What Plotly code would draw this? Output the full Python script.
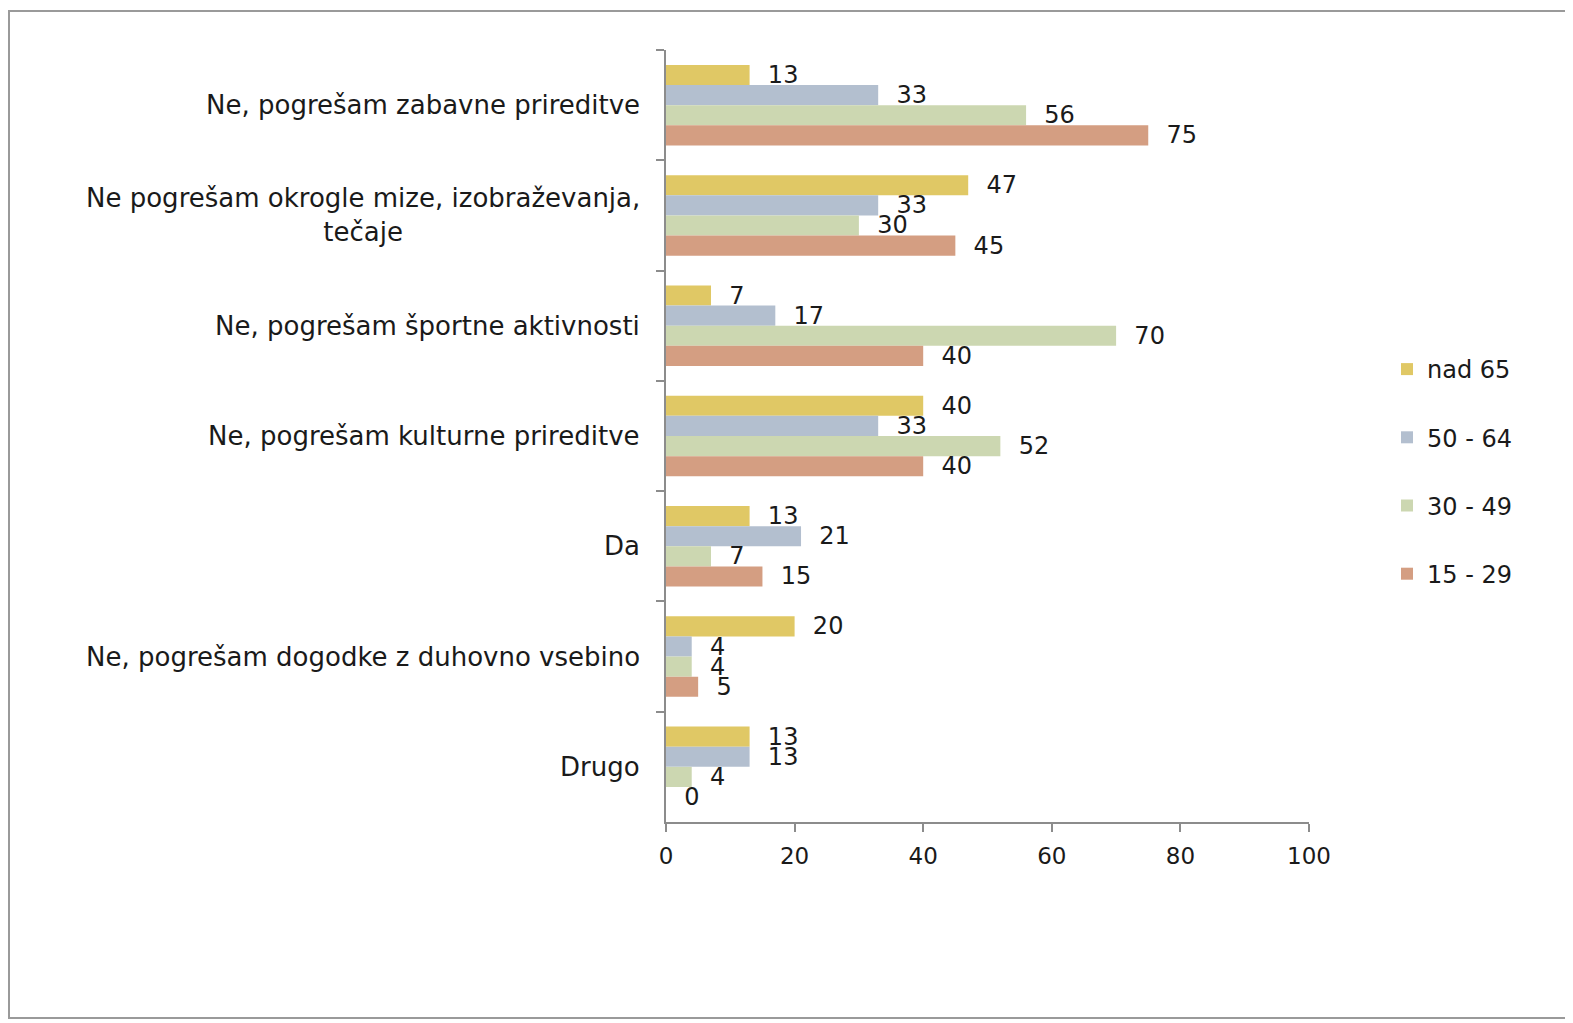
import plotly.graph_objects as go

categories = [
    "Ne, pogrešam zabavne prireditve",
    "Ne pogrešam okrogle mize, izobraževanja,<br>tečaje",
    "Ne, pogrešam športne aktivnosti",
    "Ne, pogrešam kulturne prireditve",
    "Da",
    "Ne, pogrešam dogodke z duhovno vsebino",
    "Drugo",
]
series_names = ["nad 65", "50 - 64", "30 - 49", "15 - 29"]
nad65 = [13, 47, 7, 40, 13, 20, 13]
s50_64 = [33, 33, 17, 33, 21, 4, 13]
s30_49 = [56, 30, 70, 52, 7, 4, 4]
s15_29 = [75, 45, 40, 40, 15, 5, 0]
values = [nad65, s50_64, s30_49, s15_29]
colors = ["#E0C865", "#B3BFCF", "#CCD7B1", "#D49E82"]
x_ticks = [0, 20, 40, 60, 80, 100]

FONT = "DejaVu Sans"
FS = 23
W, H = 1573, 1023
L, T = 658, 42
pw, ph = 643, 772
R = W - L - pw
B = H - T - ph

fig = go.Figure()
for name, vals, col in zip(series_names, values, colors):
    fig.add_trace(go.Bar(
        y=categories, x=vals, name=name, orientation="h",
        marker=dict(color=col, line=dict(width=0)),
        text=vals, texttemplate="\u00a0\u00a0%{x}", textposition="outside",
        textfont=dict(family=FONT, size=24, color="#1a1a1a"),
        constraintext="none",
        cliponaxis=False, legendgroup=name,
    ))

def px2x(px):
    return (px - L) / pw
def py2y(py):
    return (T + ph - py) / ph

annotations = []
for c in categories:
    annotations.append(dict(
        x=px2x(634), xref="paper", y=c, yref="y", text=c, showarrow=False,
        xanchor="right", yanchor="middle", align="center",
        font=dict(family=FONT, size=26, color="#1a1a1a"),
    ))

fig.update_layout(
    width=W, height=H,
    margin=dict(l=L, r=R, t=T, b=B),
    paper_bgcolor="white", plot_bgcolor="white",
    barmode="group", bargap=0.27, bargroupgap=0,
    font=dict(family=FONT, size=FS, color="#1a1a1a"),
    showlegend=True,
    legend=dict(
        x=px2x(1379), xanchor="left", y=py2y(339), yanchor="top",
        font=dict(family=FONT, size=24, color="#1a1a1a"),
        tracegroupgap=34, bgcolor="rgba(0,0,0,0)",
    ),
    xaxis=dict(
        range=[0, 100], tickvals=x_ticks, showgrid=False, zeroline=False,
        showline=True, linecolor="#8c8c8c", linewidth=2,
        ticks="outside", ticklen=8, tickcolor="#8c8c8c", tickwidth=2,
        tickfont=dict(family=FONT, size=FS, color="#1a1a1a"),
        ticklabelstandoff=4,
    ),
    yaxis=dict(
        autorange="reversed", showgrid=False, zeroline=False,
        showline=True, linecolor="#8c8c8c", linewidth=2,
        ticks="outside", ticklen=8, tickcolor="#8c8c8c", tickwidth=2,
        tickson="boundaries", showticklabels=False,
    ),
    annotations=annotations,
    shapes=[dict(
        type="rect", xref="paper", yref="paper",
        x0=px2x(1), x1=px2x(1600), y0=py2y(1010), y1=py2y(3),
        line=dict(color="#9a9a9a", width=2), layer="below",
    )],
)

fig.write_html("out.html")
